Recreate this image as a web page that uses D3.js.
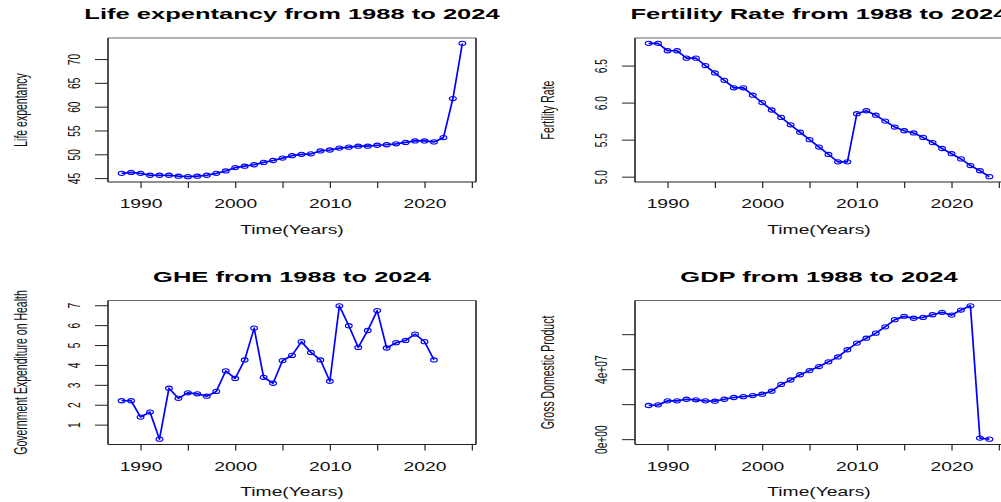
<!DOCTYPE html>
<html>
<head>
<meta charset="utf-8">
<script src="https://cdn.jsdelivr.net/npm/d3@7"></script>
<style>
  html, body { margin: 0; padding: 0; background: #fff; }
  svg { display: block; overflow: hidden; }
</style>
</head>
<body>
<script>
// ---- data -------------------------------------------------------------
const years = [1988, 1989, 1990, 1991, 1992, 1993, 1994, 1995, 1996, 1997,
               1998, 1999, 2000, 2001, 2002, 2003, 2004, 2005, 2006, 2007,
               2008, 2009, 2010, 2011, 2012, 2013, 2014, 2015, 2016, 2017,
               2018, 2019, 2020, 2021, 2022, 2023, 2024];

const lifeExpectancy = [46.0, 46.2, 46.0, 45.6, 45.6, 45.6, 45.4, 45.3, 45.4, 45.6,
                        46.0, 46.5, 47.2, 47.5, 47.8, 48.3, 48.7, 49.2, 49.7, 50.0,
                        50.1, 50.7, 50.9, 51.3, 51.5, 51.7, 51.7, 51.9, 52.0, 52.2,
                        52.5, 52.8, 52.8, 52.6, 53.5, 61.7, 73.3];

const fertilityRate = [6.8, 6.8, 6.7, 6.7, 6.6, 6.6, 6.5, 6.4, 6.3, 6.2,
                       6.2, 6.1, 6.0, 5.9, 5.8, 5.7, 5.6, 5.5, 5.4, 5.3,
                       5.2, 5.2, 5.85, 5.89, 5.83, 5.75, 5.67, 5.62, 5.59, 5.53,
                       5.46, 5.38, 5.31, 5.24, 5.15, 5.08, 5.0];

// government expenditure on health (no figures after 2021)
const healthExpenditure = [2.2, 2.2, 1.38, 1.63, 0.27, 2.83, 2.32, 2.6, 2.55, 2.43,
                           2.67, 3.7, 3.32, 4.25, 5.85, 3.38, 3.08, 4.22, 4.48, 5.17,
                           4.63, 4.25, 3.18, 6.97, 5.97, 4.88, 5.73, 6.73, 4.85, 5.12,
                           5.23, 5.55, 5.17, 4.25, null, null, null];

const gdp = [1.925e7, 1.96e7, 2.19e7, 2.19e7, 2.28e7, 2.25e7, 2.19e7, 2.17e7, 2.28e7, 2.38e7,
             2.43e7, 2.49e7, 2.57e7, 2.74e7, 3.13e7, 3.38e7, 3.68e7, 3.92e7, 4.15e7, 4.42e7,
             4.70e7, 5.11e7, 5.49e7, 5.77e7, 6.06e7, 6.42e7, 6.83e7, 7.02e7, 6.91e7, 6.96e7,
             7.11e7, 7.25e7, 7.09e7, 7.38e7, 7.62e7, 0.06e7, 0];

// ---- ticks ------------------------------------------------------------
const yearTicks = [1990, 1995, 2000, 2005, 2010, 2015, 2020, 2025];
const yearTickLabels = ["1990", "", "2000", "", "2010", "", "2020", ""];

const lifeTicks = [45, 50, 55, 60, 65, 70];
const lifeTickLabels = ["45", "50", "55", "60", "65", "70"];
const fertTicks = [5.0, 5.5, 6.0, 6.5];
const fertTickLabels = ["5.0", "5.5", "6.0", "6.5"];
const gheTicks = [1, 2, 3, 4, 5, 6, 7];
const gheTickLabels = ["1", "2", "3", "4", "5", "6", "7"];
const gdpTicks = [0, 2e7, 4e7, 6e7];
const gdpTickLabels = ["0e+00", "", "4e+07", ""];

// ---- layout -----------------------------------------------------------
const W = 1001, H = 502;
const boxW = 368, boxH = 144;
const colLeft = [108, 635];
const rowTop = [38, 300.5];
const FONT = "'Liberation Sans', Arial, Helvetica, sans-serif";
const BLUE = "#0000ff";
const INK = "#222";

const panels = [
  { title: "Life expentancy from 1988 to 2024", ylab: "Life expentancy",
    values: lifeExpectancy, ticks: lifeTicks, tickLabels: lifeTickLabels, col: 0, row: 0 },
  { title: "Fertility Rate from 1988 to 2024", ylab: "Fertility Rate",
    values: fertilityRate, ticks: fertTicks, tickLabels: fertTickLabels, col: 1, row: 0 },
  { title: "GHE from 1988 to 2024", ylab: "Government Expenditure on Health",
    values: healthExpenditure, ticks: gheTicks, tickLabels: gheTickLabels, col: 0, row: 1 },
  { title: "GDP from 1988 to 2024", ylab: "Gross Domestic Product",
    values: gdp, ticks: gdpTicks, tickLabels: gdpTickLabels, col: 1, row: 1 }
];

// base-graphics style 4% padding of the data range
function padRange([a, b]) {
  const d = (b - a) * 0.04;
  return [a - d, b + d];
}

// widen / narrow a text run along its own direction
function stretch(sel, factor) {
  sel.each(function () {
    const w = this.getComputedTextLength();
    if (w > 0) {
      d3.select(this)
        .attr("textLength", w * factor)
        .attr("lengthAdjust", "spacingAndGlyphs");
    }
  });
}

const svg = d3.select("body").append("svg")
  .attr("width", W).attr("height", H)
  .attr("viewBox", `0 0 ${W} ${H}`);

svg.append("rect").attr("width", W).attr("height", H).attr("fill", "#fff");

panels.forEach(p => {
  const left = colLeft[p.col], top = rowTop[p.row];
  const right = left + boxW, bottom = top + boxH;

  const x = d3.scaleLinear()
    .domain(padRange(d3.extent(years)))
    .range([left, right]);
  const y = d3.scaleLinear()
    .domain(padRange(d3.extent(p.values.filter(v => v != null))))
    .range([bottom, top]);

  const g = svg.append("g");

  // x axis
  const xAxis = g.append("g")
    .attr("transform", `translate(0,${bottom})`)
    .call(d3.axisBottom(x)
      .tickValues(yearTicks)
      .tickSize(6)
      .tickSizeOuter(0)
      .tickFormat((d, i) => yearTickLabels[i]));
  xAxis.select(".domain").remove();
  xAxis.selectAll(".tick line").attr("stroke", INK).attr("stroke-width", 1.2);
  const xt = xAxis.selectAll(".tick text")
    .attr("y", 26).attr("dy", null)
    .attr("fill", "#111")
    .style("font-family", FONT).style("font-size", "12.5px");
  stretch(xt, 1.54);

  // y axis
  const yAxis = g.append("g")
    .attr("transform", `translate(${left},0)`)
    .call(d3.axisLeft(y)
      .tickValues(p.ticks)
      .tickSize(13)
      .tickSizeOuter(0)
      .tickFormat((d, i) => p.tickLabels[i]));
  yAxis.select(".domain").remove();
  yAxis.selectAll(".tick line").attr("stroke", INK).attr("stroke-width", 1);
  const yt = yAxis.selectAll(".tick text")
    .attr("x", null).attr("dy", null)
    .attr("text-anchor", "middle")
    .attr("transform", "translate(-28,0) rotate(-90)")
    .attr("fill", "#111")
    .style("font-family", FONT).style("font-size", "17px");
  stretch(yt, 0.6);

  // series line and open circle markers
  const line = d3.line()
    .defined(d => d.v != null)
    .x(d => x(d.year))
    .y(d => y(d.v));
  const pts = years.map((yr, i) => ({ year: yr, v: p.values[i] }));

  g.append("path")
    .datum(pts)
    .attr("d", line)
    .attr("fill", "none")
    .attr("stroke", BLUE)
    .attr("stroke-width", 1.7)
    .attr("stroke-linejoin", "round");

  g.append("g").selectAll("ellipse")
    .data(pts.filter(d => d.v != null))
    .join("ellipse")
    .attr("cx", d => x(d.year))
    .attr("cy", d => y(d.v))
    .attr("rx", 3.4)
    .attr("ry", 2.1)
    .attr("fill", "none")
    .attr("stroke", BLUE)
    .attr("stroke-width", 1.1);

  // plot frame
  g.append("line").attr("x1", left).attr("x2", right).attr("y1", top).attr("y2", top)
    .attr("stroke", "#666").attr("stroke-width", 1.2);
  g.append("line").attr("x1", left).attr("x2", right).attr("y1", bottom).attr("y2", bottom)
    .attr("stroke", INK).attr("stroke-width", 1.2);
  g.append("line").attr("x1", left).attr("x2", left).attr("y1", top).attr("y2", bottom)
    .attr("stroke", INK).attr("stroke-width", 1.6);
  g.append("line").attr("x1", right).attr("x2", right).attr("y1", top).attr("y2", bottom)
    .attr("stroke", INK).attr("stroke-width", 1.6);

  // title
  const t = g.append("text")
    .attr("x", (left + right) / 2).attr("y", top - 19)
    .attr("text-anchor", "middle")
    .attr("fill", "#000")
    .style("font-family", FONT).style("font-weight", "bold").style("font-size", "15px")
    .text(p.title);
  stretch(t, 1.7);

  // x label
  const xl = g.append("text")
    .attr("x", (left + right) / 2).attr("y", bottom + 51.5)
    .attr("text-anchor", "middle")
    .attr("fill", "#111")
    .style("font-family", FONT).style("font-size", "12.5px")
    .text("Time(Years)");
  stretch(xl, 1.54);

  // y label
  const yl = g.append("text")
    .attr("transform", `translate(${left - 81},${(top + bottom) / 2}) rotate(-90)`)
    .attr("text-anchor", "middle")
    .attr("fill", "#111")
    .style("font-family", FONT).style("font-size", "18px")
    .text(p.ylab);
  stretch(yl, 0.583);
});
</script>
</body>
</html>
